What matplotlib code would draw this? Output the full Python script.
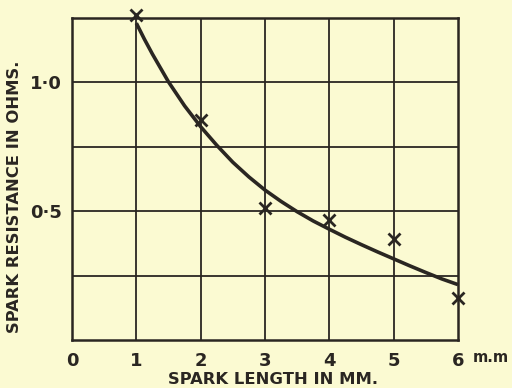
import matplotlib
matplotlib.use("Agg")
import matplotlib.pyplot as plt

# Measured points (spark length mm, resistance ohms)
length_mm = [1, 2, 3, 4, 5, 6]
resistance = [1.26, 0.855, 0.512, 0.466, 0.392, 0.163]

# Smooth drawn curve
curve_x = [1.0, 1.125, 1.25, 1.5, 1.75, 2.0, 2.25, 2.5, 2.75, 3.0, 3.25, 3.5, 3.75,
           4.0, 4.25, 4.5, 4.75, 5.0, 5.25, 5.5, 5.75, 6.0]
curve_y = [1.23, 1.168, 1.11, 1.002, 0.909, 0.828, 0.756, 0.69, 0.633, 0.582, 0.538, 0.498, 0.462,
           0.43, 0.399, 0.37, 0.342, 0.315, 0.288, 0.262, 0.237, 0.215]

x_ticks = [0, 1, 2, 3, 4, 5, 6]
x_tick_labels = ["0", "1", "2", "3", "4", "5", "6"]
y_ticks = [0.5, 1.0]
y_tick_labels = ["0·5", "1·0"]
y_grid = [0.25, 0.5, 0.75, 1.0]

bg = "#fbfad2"
ink = "#2a2622"

fig = plt.figure(figsize=(5.12, 3.88), dpi=100, facecolor=bg)
ax = fig.add_axes([72/512, 48/388, 386/512, 322/388])
ax.set_facecolor(bg)
ax.set_xlim(0, 6)
ax.set_ylim(0, 1.25)

for gx in x_ticks[1:-1]:
    ax.axvline(gx, color=ink, lw=1.3, zorder=1)
for gy in y_grid:
    ax.axhline(gy, color=ink, lw=1.3, zorder=1)

ax.plot(curve_x, curve_y, color=ink, lw=2.6, solid_capstyle="butt",
        solid_joinstyle="round", zorder=3, clip_on=False)
ax.plot(length_mm, resistance, linestyle="none", marker="x", ms=8, mew=2.0,
        color=ink, zorder=4, clip_on=False)

for s in ax.spines.values():
    s.set_color(ink)
    s.set_linewidth(1.8)

ax.set_xticks(x_ticks)
ax.set_xticklabels(x_tick_labels)
ax.set_yticks(y_ticks)
ax.set_yticklabels(y_tick_labels)
ax.tick_params(length=0, colors=ink, labelsize=13)
ax.tick_params(axis="x", pad=9)
ax.tick_params(axis="y", pad=7)
for lab in ax.get_xticklabels() + ax.get_yticklabels():
    lab.set_fontweight("bold")

fig.text(473/512, 1 - 358/388, "m.m", fontsize=10.5, fontweight="bold", color=ink,
         ha="left", va="center")
fig.text(273/512, 1 - 380/388, "SPARK LENGTH IN MM.", fontsize=11.8, fontweight="bold",
         color=ink, ha="center", va="center")
fig.text(15/512, 1 - 197/388, "SPARK RESISTANCE IN OHMS.", fontsize=11.8, fontweight="bold",
         color=ink, ha="center", va="center", rotation=90)

fig.savefig("out.png", dpi=100, facecolor=bg)
